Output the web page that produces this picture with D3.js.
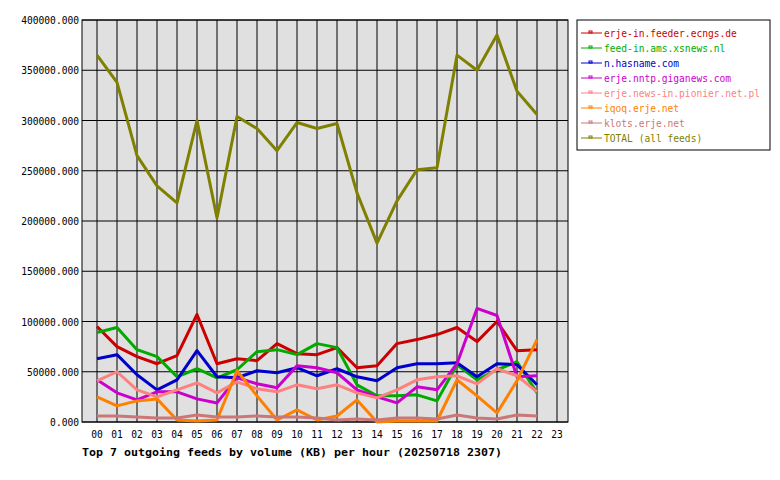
<!DOCTYPE html>
<html><head><meta charset="utf-8">
<script src="https://cdn.jsdelivr.net/npm/d3@7"></script>
<style>body{margin:0;background:#fff}text{font-family:"DejaVu Sans Mono",monospace}</style>
</head><body><svg id="c" width="780" height="480"></svg>
<script>
const hours = d3.range(24).map(h => String(h).padStart(2, "0"));
const feedNames = ["erje-in.feeder.ecngs.de","feed-in.ams.xsnews.nl","n.hasname.com","erje.nntp.giganews.com","erje.news-in.pionier.net.pl","iqoq.erje.net","klots.erje.net","TOTAL (all feeds)"];
const feedColors = ["#cc0000","#00aa00","#0000cc","#cc00cc","#ff8080","#ff8000","#cc7777","#808000"];
// values in KB (thousands), hours 00..22
const red = [95,75,65,58,66,107,58,63,61,78,68,67,74,54,56,78,82,87,94,80,100,71,72];
const green = [89,94,72,65,45,53,44,52,70,72,67,78,74,37,26,26,27,21,57,42,52,60,29];
const blue = [63,67,47,32,42,71,45,44,51,49,54,46,53,45,41,54,58,58,59,45,58,57,37];
const magenta = [42,29,22,30,30,23,19,44,38,34,56,54,49,32,25,19,35,32,58,113,106,45,46];
const salmon = [41,50,32,25,32,39,29,40,33,30,37,33,37,29,24,32,42,45,46,38,53,46,30];
const orange = [25,16,21,23,2,1,2,51,26,2,12,2,6,22,0,1,1,1,42,26,9,41,82];
const klots = [6,6,5,4,4,7,5,5,6,5,5,4,2,3,2,4,4,3,7,4,3,7,6];
const total = [365,338,265,235,218,300,203,304,292,270,298,292,297,228,178,220,251,253,365,350,385,329,306];
const series = [red, green, blue, magenta, salmon, orange, klots, total];
const yTicks = [0,50000,100000,150000,200000,250000,300000,350000,400000];

const svg = d3.select("#c");
const x = d3.scaleLinear().domain([0, 23]).range([97, 557]);
const y = d3.scaleLinear().domain([0, 400000]).range([422, 20]);

svg.append("rect").attr("x", 82).attr("y", 20).attr("width", 486).attr("height", 402).attr("fill", "#e0e0e0");

// grid
svg.selectAll(".vg").data(hours).join("line")
  .attr("x1", (d, i) => x(i)).attr("x2", (d, i) => x(i)).attr("y1", 20).attr("y2", 422)
  .attr("stroke", "#000").attr("stroke-width", 1);
svg.selectAll(".hg").data(yTicks).join("line")
  .attr("x1", 82).attr("x2", 568).attr("y1", d => y(d)).attr("y2", d => y(d))
  .attr("stroke", "#000").attr("stroke-width", 1);
svg.append("rect").attr("x", 82).attr("y", 20).attr("width", 486).attr("height", 402)
  .attr("fill", "none").attr("stroke", "#000");

// axis labels
svg.selectAll(".yl").data(yTicks).join("text")
  .attr("x", 79).attr("y", d => y(d) + 4).attr("text-anchor", "end")
  .attr("font-size", 9.6).text(d => d3.format("d")(d) + ".000");
svg.selectAll(".xl").data(hours).join("text")
  .attr("x", (d, i) => x(i)).attr("y", 438).attr("text-anchor", "middle")
  .attr("font-size", 9.6).text(d => d);
svg.append("text").attr("x", 82).attr("y", 456).attr("font-size", 11).attr("font-weight", "bold")
  .attr("textLength", 420).attr("lengthAdjust", "spacingAndGlyphs")
  .text("Top 7 outgoing feeds by volume (KB) per hour (20250718 2307)");

// lines
const line = d3.line().x((d, i) => x(i)).y(d => y(d * 1000));
series.forEach((s, k) => {
  svg.append("path").attr("d", line(s)).attr("fill", "none")
    .attr("stroke", feedColors[k]).attr("stroke-width", 3).attr("stroke-linejoin", "round");
});

// legend
svg.append("rect").attr("x", 577).attr("y", 20).attr("width", 193).attr("height", 130)
  .attr("fill", "#fff").attr("stroke", "#000");
feedNames.forEach((n, k) => {
  const ly = 33 + k * 15;
  svg.append("line").attr("x1", 581).attr("x2", 602).attr("y1", ly).attr("y2", ly).attr("stroke", feedColors[k]);
  svg.append("rect").attr("x", 589).attr("y", ly - 2).attr("width", 3).attr("height", 2).attr("fill", "none").attr("stroke", feedColors[k]);
  svg.append("text").attr("x", 604).attr("y", ly + 4).attr("font-size", 9.6).attr("fill", feedColors[k]).text(n);
});
</script></body></html>
